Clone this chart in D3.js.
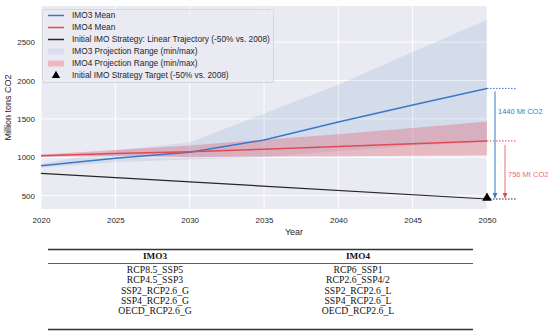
<!DOCTYPE html>
<html>
<head>
<meta charset="utf-8">
<script src="https://cdn.jsdelivr.net/npm/d3@7"></script>
<style>
  body { margin: 0; background: #fff; }
  text { font-family: "Liberation Sans", Arial, sans-serif; }
  text.serif { font-family: "Liberation Serif", "DejaVu Serif", serif; }
</style>
</head>
<body>
<div id="chart"></div>
<script>
// Data
const years = [2020, 2025, 2030, 2035, 2040, 2045, 2050];
const imo3Mean = [891, 987, 1065, 1225, 1460, 1680, 1897];
const imo4Mean = [1020, 1050, 1073, 1105, 1140, 1175, 1213];
const imo3Max = [915, 1090, 1195, 1570, 1945, 2370, 2790];
const imo3Min = [865, 935, 970, 1000, 1080, 1150, 1200];
const imo4Max = [1035, 1095, 1155, 1230, 1300, 1380, 1465];
const imo4Min = [1005, 1020, 1000, 1010, 1015, 1020, 1026];
const targetYears = [2020, 2050];
const targetLine = [792, 457];
const yTicks = [500, 1000, 1500, 2000, 2500];
const imo3Scenarios = ["RCP8.5_SSP5", "RCP4.5_SSP3", "SSP2_RCP2.6_G", "SSP4_RCP2.6_G", "OECD_RCP2.6_G"];
const imo4Scenarios = ["RCP6_SSP1", "RCP2.6_SSP4/2", "SSP2_RCP2.6_L", "SSP4_RCP2.6_L", "OECD_RCP2.6_L"];

const width = 550, height = 334;
const margin = {top: 6, bottom: 125, left: 41, right: 63};

const blue = "#3a78c8", red = "#e04a55", dark = "#262626";

const svg = d3.select("#chart")
    .append("svg")
    .attr("width", width)
    .attr("height", height);

const xScale = d3.scaleLinear()
    .domain([2020, 2050])
    .range([margin.left, width - margin.right]);

const yScale = d3.scaleLinear()
    .domain([327, 2970])
    .range([height - margin.bottom, margin.top]);

// Plot background
svg.append("rect")
    .attr("x", margin.left)
    .attr("y", margin.top)
    .attr("width", xScale.range()[1] - margin.left)
    .attr("height", yScale.range()[0] - margin.top)
    .attr("fill", "#eaeaf2");

// Grid lines
svg.append("g")
    .selectAll("line")
    .data(yTicks)
    .enter().append("line")
    .attr("x1", margin.left).attr("x2", xScale(2050))
    .attr("y1", d => yScale(d)).attr("y2", d => yScale(d))
    .attr("stroke", "#fff").attr("stroke-width", 1);

svg.append("g")
    .selectAll("line")
    .data(years)
    .enter().append("line")
    .attr("x1", d => xScale(d)).attr("x2", d => xScale(d))
    .attr("y1", margin.top).attr("y2", yScale.range()[0])
    .attr("stroke", "#fff").attr("stroke-width", 1);

const idx = d3.range(years.length);

// Ranges
const area3 = d3.area()
    .x(i => xScale(years[i]))
    .y0(i => yScale(imo3Min[i]))
    .y1(i => yScale(imo3Max[i]));
const area4 = d3.area()
    .x(i => xScale(years[i]))
    .y0(i => yScale(imo4Min[i]))
    .y1(i => yScale(imo4Max[i]));

svg.append("path").datum(idx)
    .attr("d", area3)
    .attr("fill", blue).attr("fill-opacity", 0.12);
svg.append("path").datum(idx)
    .attr("d", area4)
    .attr("fill", red).attr("fill-opacity", 0.3);

// Lines
const line = vals => d3.line()
    .x(i => xScale(years[i]))
    .y(i => yScale(vals[i]));

svg.append("path").datum(idx)
    .attr("d", line(imo3Mean))
    .attr("fill", "none").attr("stroke", blue).attr("stroke-width", 1.5);
svg.append("path").datum(idx)
    .attr("d", line(imo4Mean))
    .attr("fill", "none").attr("stroke", red).attr("stroke-width", 1.5);
svg.append("path").datum(d3.range(targetYears.length))
    .attr("d", d3.line().x(i => xScale(targetYears[i])).y(i => yScale(targetLine[i])))
    .attr("fill", "none").attr("stroke", dark).attr("stroke-width", 1.2);

// Axes
const xAxis = svg.append("g")
    .attr("transform", `translate(0,${yScale.range()[0]})`)
    .call(d3.axisBottom(xScale).tickValues(years).tickFormat(d3.format("d")).tickSize(0).tickPadding(8));
const yAxis = svg.append("g")
    .attr("transform", `translate(${margin.left},0)`)
    .call(d3.axisLeft(yScale).tickValues(yTicks).tickFormat(d3.format("d")).tickSize(0).tickPadding(6));
[xAxis, yAxis].forEach(a => {
    a.select(".domain").remove();
    a.selectAll("text").attr("font-size", 8).attr("fill", "#262626");
});

// Axis labels
svg.append("text")
    .attr("x", 294)
    .attr("y", 235)
    .text("Year")
    .attr("font-size", 9)
    .attr("fill", "#262626")
    .style("text-anchor", "middle");

svg.append("text")
    .attr("x", -(margin.top + yScale.range()[0]) / 2)
    .attr("y", 11)
    .text("Million tons CO2")
    .attr("font-size", 9)
    .attr("fill", "#262626")
    .style("text-anchor", "middle")
    .attr("transform", "rotate(-90)");

// Annotations at 2050
const x50 = xScale(2050);
const yT = yScale(targetLine[1]);
const y3 = yScale(imo3Mean[6]);
const y4 = yScale(imo4Mean[6]);

[[y3, blue], [y4, red], [yT, dark]].forEach(([y, c]) => {
    svg.append("line")
        .attr("x1", x50).attr("x2", x50 + 30)
        .attr("y1", y).attr("y2", y)
        .attr("stroke", c).attr("stroke-width", 1)
        .attr("stroke-dasharray", "1.5,1.5");
});

const defs = svg.append("defs");
[["arrBlue", blue], ["arrRed", red]].forEach(([id, c]) => {
    defs.append("marker")
        .attr("id", id)
        .attr("viewBox", "0 0 10 10")
        .attr("refX", 10).attr("refY", 5)
        .attr("markerWidth", 5).attr("markerHeight", 5)
        .attr("markerUnits", "userSpaceOnUse")
        .attr("orient", "auto")
        .append("path").attr("d", "M0,0L10,5L0,10Z").attr("fill", c);
});

svg.append("line")
    .attr("x1", x50 + 8).attr("x2", x50 + 8)
    .attr("y1", y3 + 3).attr("y2", yT - 1)
    .attr("stroke", blue).attr("stroke-width", 1)
    .attr("marker-end", "url(#arrBlue)");
svg.append("line")
    .attr("x1", x50 + 18).attr("x2", x50 + 18)
    .attr("y1", y4 + 4).attr("y2", yT - 1)
    .attr("stroke", "#ea6f78").attr("stroke-width", 1)
    .attr("marker-end", "url(#arrRed)");

svg.append("text")
    .attr("x", x50 + 11).attr("y", 111)
    .attr("dy", ".35em")
    .text("1440 Mt CO2")
    .attr("font-size", 7.5).attr("fill", blue);
svg.append("text")
    .attr("x", x50 + 21).attr("y", 174)
    .attr("dy", ".35em")
    .text("756 Mt CO2")
    .attr("font-size", 7.5).attr("fill", "#ea6f78");

// Target marker
svg.append("path")
    .attr("transform", `translate(${x50},${yT - 1})`)
    .attr("d", d3.symbol(d3.symbolTriangle, 40)())
    .attr("fill", "#000");

// Legend
const legendItems = [
    {label: "IMO3 Mean", type: "line", color: blue},
    {label: "IMO4 Mean", type: "line", color: red},
    {label: "Initial IMO Strategy: Linear Trajectory (-50% vs. 2008)", type: "line", color: dark},
    {label: "IMO3 Projection Range (min/max)", type: "patch", color: "#d8ddef"},
    {label: "IMO4 Projection Range (min/max)", type: "patch", color: "#efb8c1"},
    {label: "Initial IMO Strategy Target (-50% vs. 2008)", type: "marker", color: "#000"}
];

svg.append("rect")
    .attr("x", 42.5).attr("y", 9.5)
    .attr("width", 231).attr("height", 73)
    .attr("rx", 2)
    .attr("fill", "#eaeaf2").attr("fill-opacity", 0.85)
    .attr("stroke", "#d0d0d8").attr("stroke-width", 0.8);

const legend = svg.selectAll(".legend")
    .data(legendItems)
    .enter().append("g")
    .attr("class", "legend")
    .attr("transform", (d, i) => `translate(0,${15.5 + i * 12})`);

legend.filter(d => d.type === "line").append("line")
    .attr("x1", 48).attr("x2", 64).attr("y1", 0).attr("y2", 0)
    .attr("stroke", d => d.color).attr("stroke-width", 1.5);
legend.filter(d => d.type === "patch").append("rect")
    .attr("x", 48).attr("y", -3).attr("width", 16).attr("height", 6)
    .attr("fill", d => d.color);
legend.filter(d => d.type === "marker").append("path")
    .attr("transform", "translate(56,0)")
    .attr("d", d3.symbol(d3.symbolTriangle, 30)())
    .attr("fill", d => d.color);

legend.append("text")
    .attr("x", 72).attr("y", 0)
    .attr("dy", ".35em")
    .attr("font-size", 8.3)
    .attr("fill", "#262626")
    .text(d => d.label);

// Scenario table
const tx0 = 48, tx1 = 473;
const colX = [155, 358];

svg.append("line").attr("x1", tx0).attr("x2", tx1).attr("y1", 249.5).attr("y2", 249.5)
    .attr("stroke", "#333").attr("stroke-width", 1.4);
svg.append("line").attr("x1", tx0).attr("x2", tx1).attr("y1", 263.5).attr("y2", 263.5)
    .attr("stroke", "#333").attr("stroke-width", 0.8);
svg.append("line").attr("x1", tx0).attr("x2", tx1).attr("y1", 329.5).attr("y2", 329.5)
    .attr("stroke", "#333").attr("stroke-width", 1.4);

[["IMO3", imo3Scenarios], ["IMO4", imo4Scenarios]].forEach(([head, rows], c) => {
    svg.append("text")
        .attr("class", "serif")
        .attr("x", colX[c]).attr("y", 256)
        .attr("dy", ".35em")
        .attr("font-weight", "bold")
        .attr("font-size", 9.2).attr("fill", "#111")
        .style("text-anchor", "middle")
        .text(head);
    svg.append("g").selectAll("text")
        .data(rows)
        .enter().append("text")
        .attr("class", "serif")
        .attr("x", colX[c])
        .attr("y", (d, i) => 269.5 + i * 10.4)
        .attr("dy", ".35em")
        .attr("font-size", 9.7).attr("fill", "#111")
        .style("text-anchor", "middle")
        .text(d => d);
});
</script>
</body>
</html>
